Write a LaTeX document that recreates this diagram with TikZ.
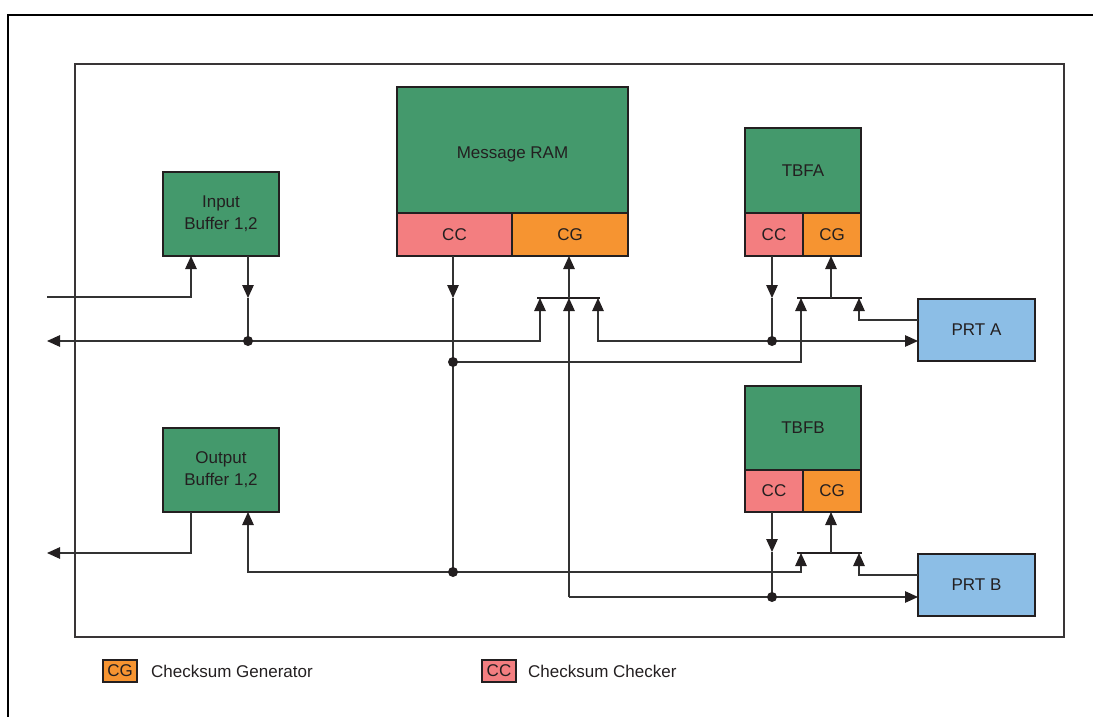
\documentclass[tikz,border=0pt]{standalone}
\usepackage{fontspec}
\setmainfont{Liberation Sans}
\usetikzlibrary{arrows.meta,calc}
\definecolor{ink}{HTML}{231F20}
\definecolor{grn}{HTML}{44996C}
\definecolor{ccpink}{HTML}{F37E80}
\definecolor{cgor}{HTML}{F69431}
\definecolor{prtblue}{HTML}{8CBEE6}
\definecolor{wirec}{HTML}{333333}
\begin{document}
\begin{tikzpicture}[x=1pt,y=-1pt,
  box/.style={draw=ink,line width=2pt,text=ink,font=\fontsize{17}{22}\selectfont,
    align=center,inner sep=0pt,outer sep=0pt,anchor=north west},
  gbox/.style={box,fill=grn},
  ccbox/.style={box,fill=ccpink},
  cgbox/.style={box,fill=cgor},
  prtbox/.style={box,fill=prtblue},
  legbox/.style={box,line width=1.5pt,minimum width=34pt,minimum height=22pt},
  legtext/.style={text=ink,font=\fontsize{17}{22}\selectfont,anchor=west,inner sep=0pt},
  wire/.style={draw=wirec,line width=1.3pt},
  arr/.style={wire,-{Triangle[length=13pt,width=11.5pt,color=ink]}},
  muxbar/.style={draw=ink,line width=2pt},
  jdot/.style={circle,fill=ink,inner sep=0pt,minimum size=10pt},
]
\useasboundingbox (0,0) rectangle (1093,717);
% frames
\draw[black,line width=2.5pt] (8,717) -- (8,15) -- (1093,15);
\draw[draw=ink!90,line width=1.8pt] (75,64) rectangle (1064,637);

% blocks
\node[gbox,minimum width=116pt,minimum height=84pt] (ibuf) at (163,172) {Input\\Buffer 1,2};
\node[gbox,minimum width=116pt,minimum height=84pt] (obuf) at (163,428) {Output\\Buffer 1,2};
\node[gbox,minimum width=231pt,minimum height=126pt,text height=20pt] (ram) at (397,87) {Message RAM};
\node[ccbox,minimum width=115pt,minimum height=43pt] (ramcc) at (397,213) {CC};
\node[cgbox,minimum width=116pt,minimum height=43pt] (ramcg) at (512,213) {CG};
\node[gbox,minimum width=116pt,minimum height=85pt] (tbfa) at (745,128) {TBFA};
\node[ccbox,minimum width=58pt,minimum height=43pt] (tacc) at (745,213) {CC};
\node[cgbox,minimum width=58pt,minimum height=43pt] (tacg) at (803,213) {CG};
\node[gbox,minimum width=116pt,minimum height=84pt] (tbfb) at (745,386) {TBFB};
\node[ccbox,minimum width=58pt,minimum height=42pt] (tbcc) at (745,470) {CC};
\node[cgbox,minimum width=58pt,minimum height=42pt] (tbcg) at (803,470) {CG};
\node[prtbox,minimum width=117pt,minimum height=62pt] (prta) at (918,299) {PRT A};
\node[prtbox,minimum width=117pt,minimum height=62pt] (prtb) at (918,554) {PRT B};

% coordinates
\coordinate (inL) at (47,297);
\coordinate (busL) at (47,341);
\coordinate (obL) at (47,553);
\coordinate (d1) at (248,341);
\coordinate (d2) at (772,341);
\coordinate (d3) at (453,362);
\coordinate (d4) at (772,597);
\coordinate (d5) at (453,572);
\coordinate (c569) at (569,597);
% mux 1 (Message RAM)
\coordinate (m1l) at (537,298);
\coordinate (m1r) at (600,298);
\coordinate (m1a) at (540,298);
\coordinate (m1b) at (569,298);
\coordinate (m1c) at (598,298);
% mux 2 (TBFA)
\coordinate (m2l) at (797,298);
\coordinate (m2r) at (862,298);
\coordinate (m2a) at (801,298);
\coordinate (m2o) at (831,298);
\coordinate (m2b) at (859,298);
% mux 3 (TBFB)
\coordinate (m3l) at (797,553);
\coordinate (m3r) at (862,553);
\coordinate (m3a) at (801,553);
\coordinate (m3o) at (831,553);
\coordinate (m3b) at (859,553);
% mid-arrow tips
\coordinate (t1) at (248,298);
\coordinate (t2) at (453,298);
\coordinate (t3) at (772,298);
\coordinate (t4) at (772,552);

% mux bars
\draw[muxbar] (m1l) -- (m1r);
\draw[muxbar] (m2l) -- (m2r);
\draw[muxbar] (m3l) -- (m3r);

% input buffer
\draw[arr] (inL) -| (ibuf.south -| 191,0);
\draw[arr] (ibuf.south -| t1) -- (t1);
\draw[wire] (t1) -- (d1);
\draw[arr] (d1) -- (busL);
\draw[arr] (d1) -| (m1a);

% message RAM
\draw[arr] (m1b) -- (ramcg.south -| m1b);
\draw[arr] (ramcc.south -| t2) -- (t2);
\draw[wire] (t2) -- (d3) -- (d5);
\draw[arr] (d3) -| (m2a);
\draw[arr] (d5) -| (obuf.south -| d1);
\draw[arr] (d5) -| (m3a);
\draw[arr] (d2) -| (m1c);
\draw[arr] (d2) -- (prta.west |- d2);
\draw[arr] (c569) -- (m1b);
\draw[arr] (c569) -- (prtb.west |- c569);

% TBFA
\draw[arr] (tacc.south -| t3) -- (t3);
\draw[wire] (t3) -- (d2);
\draw[arr] (m2o) -- (tacg.south -| m2o);
\draw[arr] (prta.west |- 0,320) -| (m2b);

% TBFB
\draw[arr] (tbcc.south -| t4) -- (t4);
\draw[wire] (t4) -- (d4);
\draw[arr] (m3o) -- (tbcg.south -| m3o);
\draw[arr] (prtb.west |- 0,575) -| (m3b);

% output buffer
\draw[arr] (obuf.south -| 191,0) |- (obL);

% junction dots
\foreach \p in {d1,d2,d3,d4,d5} \node[jdot] at (\p) {};

% legend
\node[legbox,fill=cgor] (lcg) at (103,660) {CG};
\node[legtext] (lcgt) at (151,671) {Checksum Generator};
\node[legbox,fill=ccpink] (lcc) at (482,660) {CC};
\node[legtext] (lcct) at (528,671) {Checksum Checker};
\end{tikzpicture}
\end{document}
